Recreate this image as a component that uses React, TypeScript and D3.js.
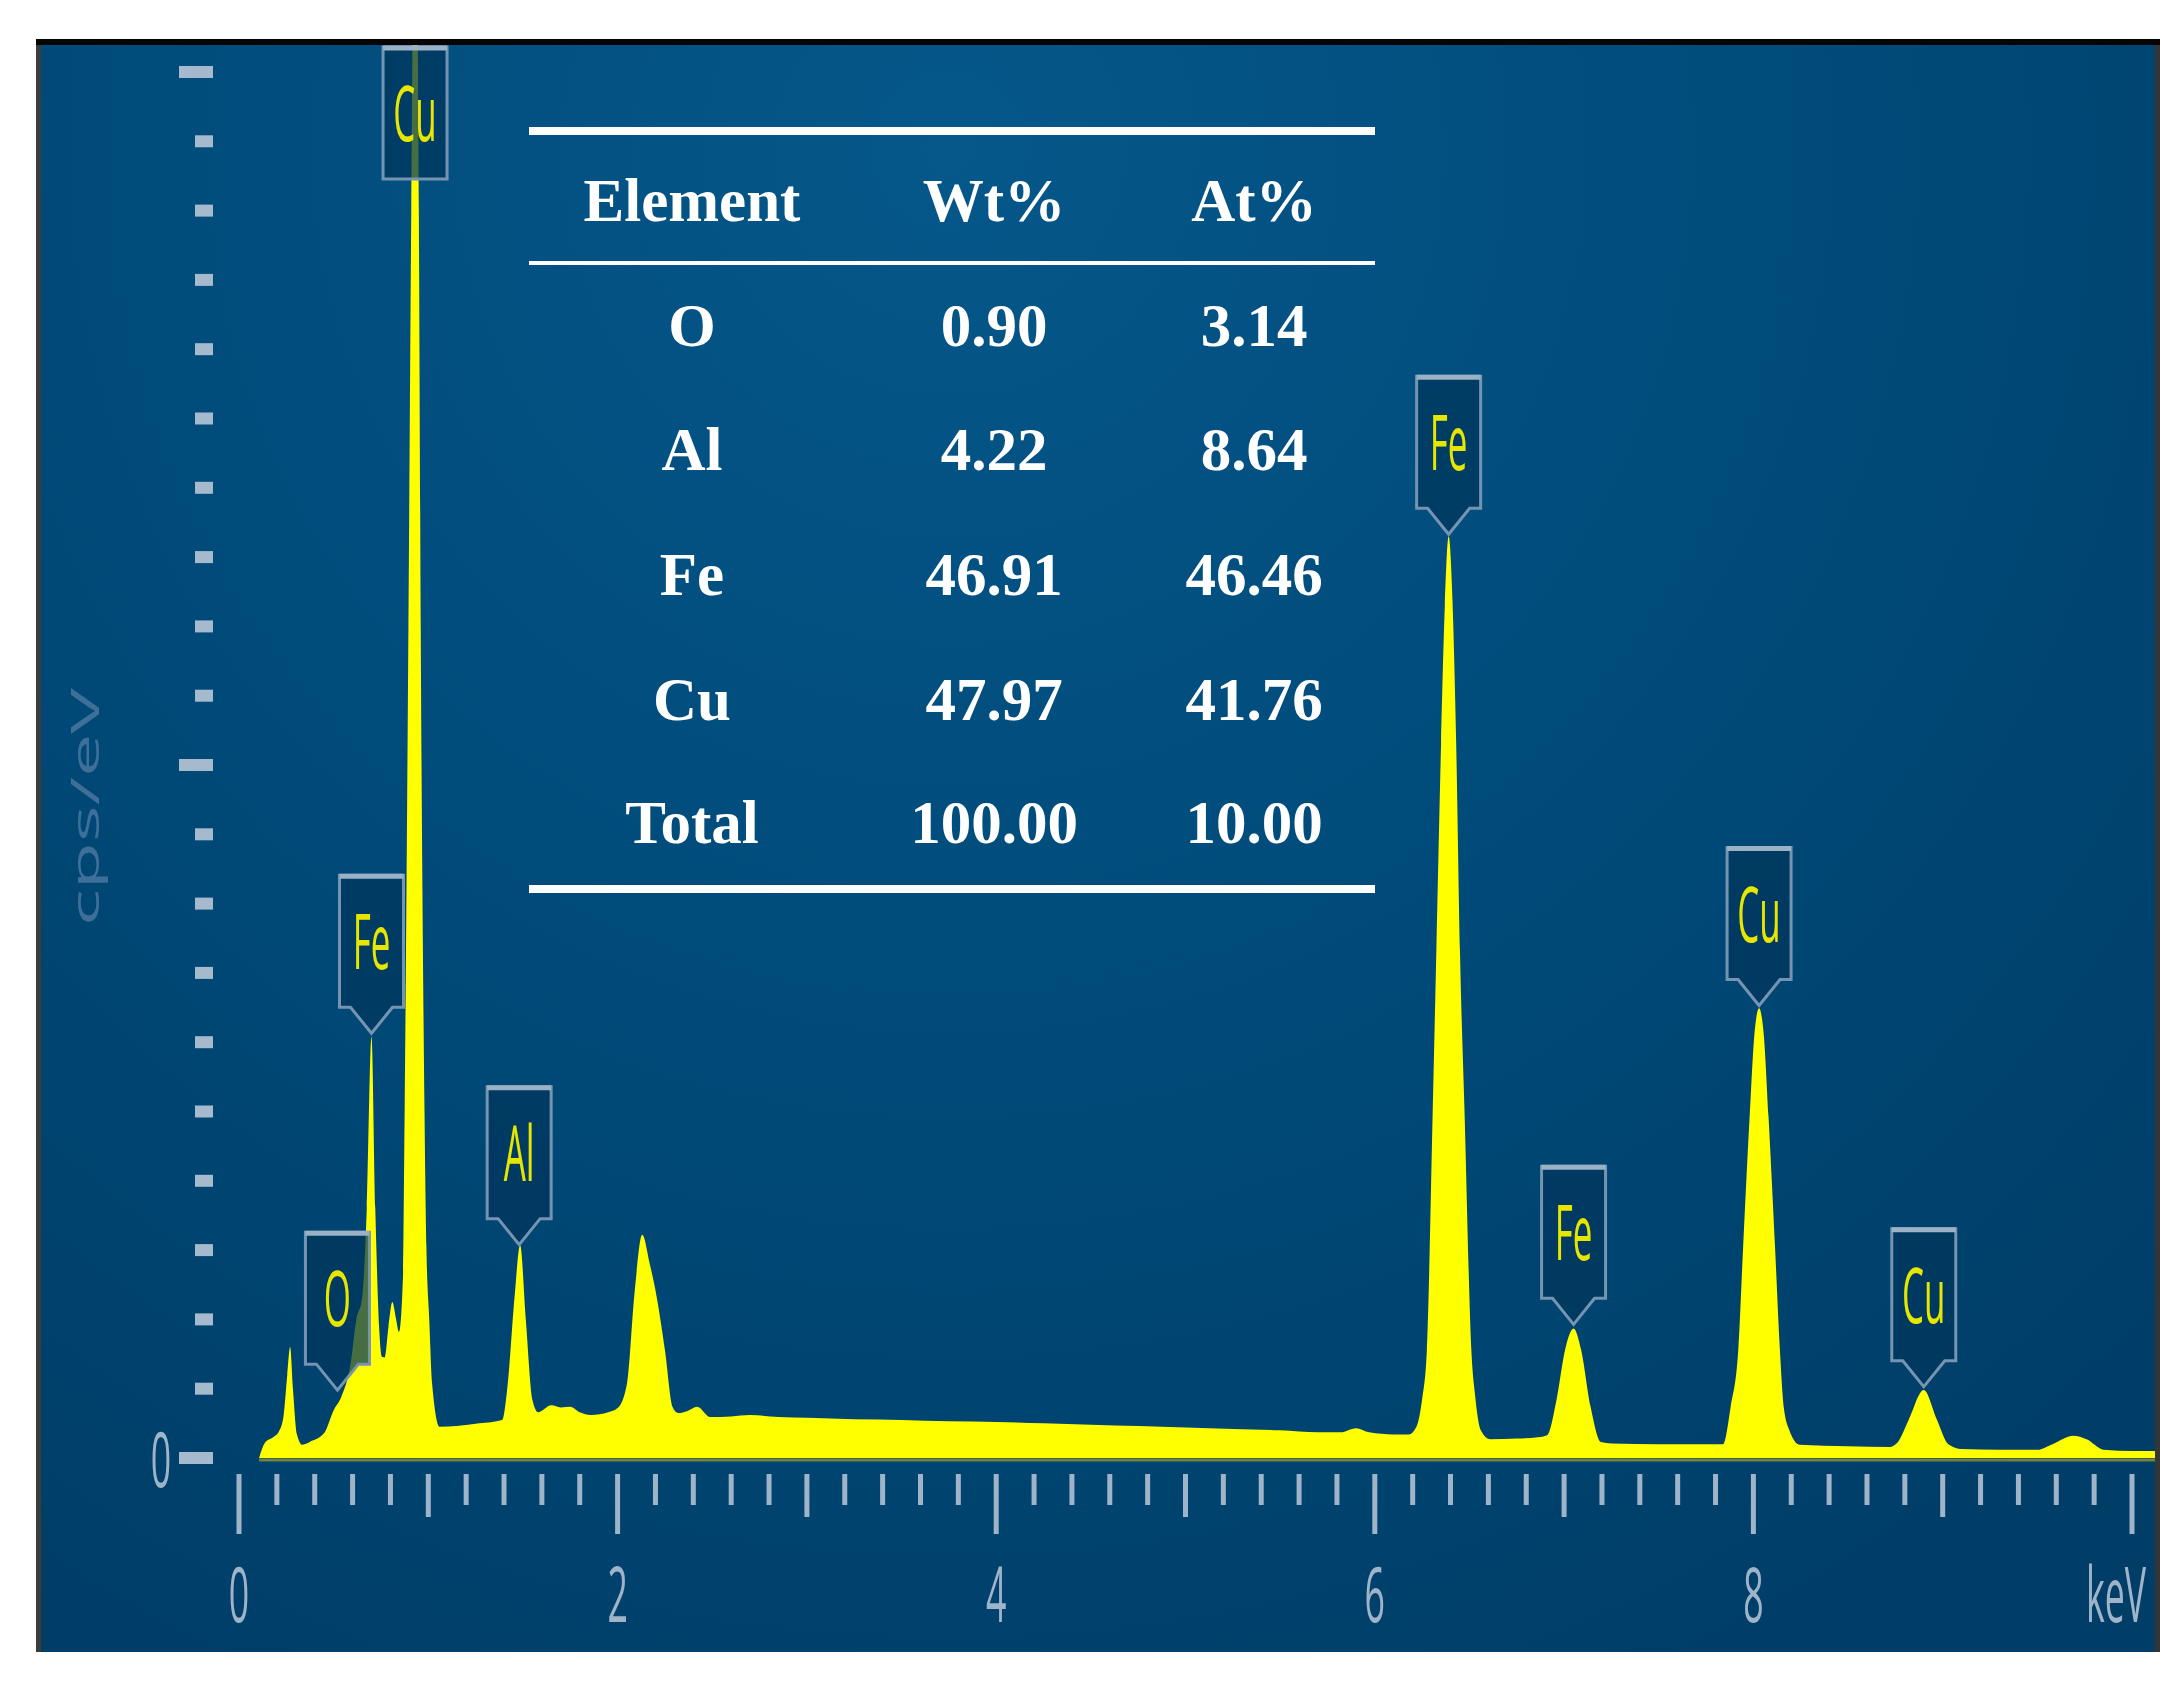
import { useEffect, useRef } from 'react';
import * as d3 from 'd3';

// EDS spectrum (keV, counts in y-tick units)
const spectrumKeV = [
  0.106, 0.137, 0.18, 0.21, 0.235, 0.255, 0.27, 0.285, 0.305, 0.335, 0.38, 0.45, 0.5, 0.54, 0.59,
  0.62, 0.65, 0.675, 0.7, 0.72, 0.74, 0.755, 0.77, 0.79, 0.81, 0.83, 0.845, 0.866, 0.875, 0.895,
  0.91, 0.93, 0.95, 0.96, 0.98, 0.99, 1.005, 1.02, 1.06, 1.15, 1.27, 1.39, 1.42, 1.455, 1.485,
  1.515, 1.55, 1.58, 1.65, 1.7, 1.75, 1.8, 1.86, 1.95, 2.0, 2.05, 2.09, 2.13, 2.17, 2.2, 2.25,
  2.29, 2.32, 2.37, 2.42, 2.49, 2.6, 2.7, 2.85, 3.0, 3.25, 3.5, 3.75, 4.0, 4.25, 4.5, 4.75, 5.0,
  5.25, 5.5, 5.7, 5.82, 5.9, 5.97, 6.1, 6.18, 6.22, 6.25, 6.275, 6.305, 6.325, 6.35, 6.37, 6.39,
  6.41, 6.43, 6.45, 6.475, 6.51, 6.53, 6.56, 6.61, 6.75, 6.86, 6.91, 6.96, 7.005, 7.05, 7.09,
  7.14, 7.195, 7.25, 7.5, 7.75, 7.84, 7.88, 7.92, 7.945, 7.98, 8.005, 8.03, 8.055, 8.08, 8.115,
  8.14, 8.16, 8.19, 8.245, 8.5, 8.72, 8.76, 8.82, 8.9, 8.97, 9.03, 9.1, 9.3, 9.5, 9.58, 9.69, 9.76,
  9.85, 10.0, 10.13,
];
const spectrumCps = [
  0, 0.22, 0.3, 0.38, 0.6, 1.2, 1.6, 1.0, 0.35, 0.19, 0.24, 0.36, 0.69, 0.88, 1.37,
  2.0, 2.3, 3.6, 6.08, 3.6, 1.9, 1.46, 1.45, 1.9, 2.25, 2.0, 1.82, 2.6, 5.0, 12,
  18, 24, 18, 12, 5.0, 3.05, 2.0, 1.08, 0.45, 0.46, 0.5, 0.55, 1.08, 2.3, 3.07,
  2.0, 0.84, 0.66, 0.76, 0.73, 0.74, 0.66, 0.62, 0.66, 0.72, 1.08, 2.4, 3.22, 2.8, 2.42, 1.56,
  0.74, 0.65, 0.68, 0.74, 0.59, 0.6, 0.62, 0.59, 0.58, 0.56, 0.55, 0.53, 0.52, 0.5, 0.48, 0.46, 0.44,
  0.42, 0.4, 0.37, 0.37, 0.43, 0.37, 0.34, 0.34, 0.45, 0.85, 1.56, 4.9, 7.3, 10.3, 12.3, 13.3,
  12.4, 10.3, 7.3, 4.9, 1.56, 0.9, 0.4, 0.27, 0.28, 0.3, 0.33, 0.84, 1.56, 1.87, 1.56,
  0.74, 0.23, 0.21, 0.2, 0.2, 0.2, 0.74, 1.56, 3.0, 4.92, 6.1, 6.49, 6.1, 4.92, 3.0,
  1.56, 0.74, 0.4, 0.19, 0.17, 0.16, 0.22, 0.55, 0.98, 0.55, 0.2, 0.13, 0.12, 0.12, 0.2, 0.32, 0.27,
  0.12, 0.1, 0.1,
];

const peakElements = ['O', 'Fe', 'Cu', 'Al', 'Fe', 'Fe', 'Cu', 'Cu'];
const peakKeV = [0.52, 0.7, 0.93, 1.48, 6.39, 7.05, 8.03, 8.9];
const peakCps = [0.95, 6.1, 30, 3.05, 13.3, 1.9, 6.5, 1.0];

const tableColumns = ['Element', 'Wt%', 'At%'];
const tableElements = ['O', 'Al', 'Fe', 'Cu', 'Total'];
const wtPercent = ['0.90', '4.22', '46.91', '47.97', '100.00'];
const atPercent = ['3.14', '8.64', '46.46', '41.76', '10.00'];

const xTickValues = [0, 2, 4, 6, 8, 10];
const xTickLabels = ['0', '2', '4', '6', '8', 'keV'];

const W = 2182;
const H = 1687;

export default function App() {
  const svgRef = useRef<SVGSVGElement>(null);

  useEffect(() => {
    if (!svgRef.current) return;
    const svg = d3.select(svgRef.current);
    svg.selectAll('*').remove();

    const panel = { left: 41, top: 45, right: 2155, bottom: 1652 };
    const x = d3.scaleLinear().domain([0, 10]).range([239, 2132]);
    const y = d3.scaleLinear().domain([0, 20]).range([1458, 72]);

    const defs = svg.append('defs');
    const grad = defs.append('radialGradient')
      .attr('id', 'bg')
      .attr('gradientUnits', 'userSpaceOnUse')
      .attr('cx', 950).attr('cy', 150).attr('r', 1700);
    grad.append('stop').attr('offset', '0').attr('stop-color', '#06578a');
    grad.append('stop').attr('offset', '0.5').attr('stop-color', '#004b7a');
    grad.append('stop').attr('offset', '1').attr('stop-color', '#003e68');

    defs.append('clipPath').attr('id', 'panel-clip')
      .append('rect')
      .attr('x', panel.left).attr('y', panel.top)
      .attr('width', panel.right - panel.left).attr('height', panel.bottom - panel.top);

    // panel background and borders
    svg.append('rect')
      .attr('x', panel.left).attr('y', panel.top)
      .attr('width', panel.right - panel.left).attr('height', panel.bottom - panel.top)
      .attr('fill', 'url(#bg)');
    svg.append('rect').attr('x', 36).attr('y', 39).attr('width', 5).attr('height', panel.bottom - 39).attr('fill', '#3c3c3c');
    svg.append('rect').attr('x', panel.right).attr('y', 39).attr('width', 5).attr('height', panel.bottom - 39).attr('fill', '#353535');
    svg.append('rect').attr('x', 36).attr('y', 39).attr('width', panel.right + 5 - 36).attr('height', 6).attr('fill', '#050505');

    const plot = svg.append('g').attr('clip-path', 'url(#panel-clip)');

    // spectrum
    const points: [number, number][] = spectrumKeV.map((k, i) => [k, spectrumCps[i]]);
    const area = d3.area<[number, number]>()
      .x(d => x(d[0]))
      .y0(y(0))
      .y1(d => y(d[1]))
      .curve(d3.curveMonotoneX);
    plot.append('path')
      .datum(points)
      .attr('d', area)
      .attr('fill', '#ffff00');
    plot.append('line')
      .attr('x1', x(spectrumKeV[0])).attr('x2', panel.right)
      .attr('y1', y(0) + 2).attr('y2', y(0) + 2)
      .attr('stroke', '#74823f').attr('stroke-width', 3);

    // x ticks
    const tickColor = '#9fb4c9';
    const xt = d3.range(0, 51).map(i => i / 5);
    plot.selectAll('.xtick')
      .data(xt)
      .enter()
      .append('line')
      .attr('x1', d => x(d)).attr('x2', d => x(d))
      .attr('y1', 1474)
      .attr('y2', (d, i) => (i % 10 === 0 ? 1534 : i % 5 === 0 ? 1517 : 1505))
      .attr('stroke', tickColor)
      .attr('stroke-width', 5);

    const condensed = (sel: any, size: number) =>
      sel.attr('font-family', '"Open Sans", "Noto Sans", sans-serif').attr('font-size', size);

    xTickValues.forEach((v, i) => {
      const t = plot.append('text')
        .attr('transform', `translate(${x(v) - (i === 5 ? 16 : 0)},1622) scale(0.47,1)`)
        .attr('text-anchor', 'middle')
        .attr('fill', tickColor)
        .text(xTickLabels[i]);
      condensed(t, 76);
    });

    // y ticks
    const yt = d3.range(0, 21);
    plot.selectAll('.ytick')
      .data(yt)
      .enter()
      .append('rect')
      .attr('x', d => (d % 10 === 0 ? 179 : 195))
      .attr('width', d => (d % 10 === 0 ? 34 : 18))
      .attr('y', d => y(d) - 6)
      .attr('height', 12)
      .attr('fill', '#a6bace');
    const y0 = plot.append('text')
      .attr('transform', `translate(161,${y(0) + 29}) scale(0.47,1)`)
      .attr('text-anchor', 'middle')
      .attr('fill', tickColor)
      .text('0');
    condensed(y0, 76);

    const ylab = plot.append('text')
      .attr('transform', `translate(99,807) scale(0.5,1) rotate(-90)`)
      .attr('text-anchor', 'middle')
      .attr('fill', '#3d6f98')
      .text('cps/eV');
    condensed(ylab, 77);

    // peak labels
    const bw = 64, bh = 132, ph = 26, pw = 21;
    peakElements.forEach((el, i) => {
      const cx = x(peakKeV[i]);
      const tipY = y(peakCps[i]) - 2;
      let top = tipY - ph - bh;
      const clamped = top < 47;
      if (clamped) top = 47;
      const g = plot.append('g');
      const p = d3.path();
      p.moveTo(cx - bw / 2, top);
      p.lineTo(cx + bw / 2, top);
      p.lineTo(cx + bw / 2, top + bh);
      if (!clamped) {
        p.lineTo(cx + pw, top + bh);
        p.lineTo(cx, top + bh + ph);
        p.lineTo(cx - pw, top + bh);
      }
      p.lineTo(cx - bw / 2, top + bh);
      p.closePath();
      g.append('path')
        .attr('d', p.toString())
        .attr('fill', '#00365c')
        .attr('fill-opacity', 0.72)
        .attr('stroke', '#7594b1')
        .attr('stroke-width', 3);
      g.append('line')
        .attr('x1', cx - bw / 2).attr('x2', cx + bw / 2)
        .attr('y1', top + 1).attr('y2', top + 1)
        .attr('stroke', '#9ab1c6').attr('stroke-width', 5);
      const t = g.append('text')
        .attr('transform', `translate(${cx},${top + 94}) scale(0.46,1)`)
        .attr('text-anchor', 'middle')
        .attr('fill', '#e6e600')
        .text(el);
      condensed(t, 76);
    });

    // composition table
    const tx0 = 529, tx1 = 1375;
    const colX = [692, 994, 1254];
    const serif = '"Liberation Serif", "Times New Roman", serif';
    const table = svg.append('g').attr('font-family', serif).attr('font-weight', 'bold')
      .attr('font-size', 61).attr('fill', '#ffffff').attr('text-anchor', 'middle');
    table.append('rect').attr('x', tx0).attr('y', 127).attr('width', tx1 - tx0).attr('height', 8).attr('fill', '#ffffff');
    table.append('rect').attr('x', tx0).attr('y', 261).attr('width', tx1 - tx0).attr('height', 4).attr('fill', '#ffffff');
    table.append('rect').attr('x', tx0).attr('y', 885).attr('width', tx1 - tx0).attr('height', 8).attr('fill', '#ffffff');
    tableColumns.forEach((c, i) => {
      table.append('text').attr('x', colX[i]).attr('y', 221).text(c);
    });
    const rowY = [346, 470, 595, 720, 843];
    tableElements.forEach((el, r) => {
      [el, wtPercent[r], atPercent[r]].forEach((v, c) => {
        table.append('text').attr('x', colX[c]).attr('y', rowY[r]).text(v);
      });
    });
  }, []);

  return (
    <svg
      ref={svgRef}
      width={W}
      height={H}
      style={{ position: 'absolute', left: 0, top: 0, display: 'block', background: '#ffffff' }}
    />
  );
}
